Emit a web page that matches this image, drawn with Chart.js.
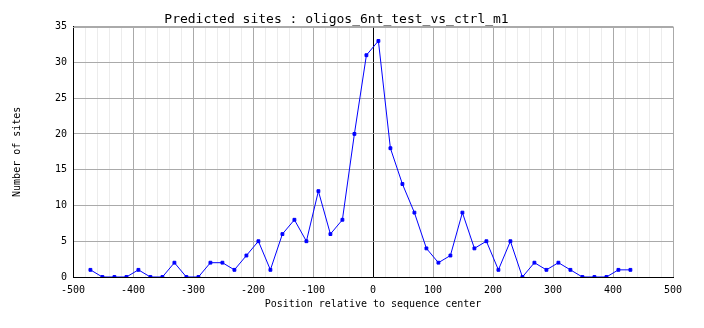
<!DOCTYPE html>
<html lang="en">
<head>
  <meta charset="UTF-8">
  <title>Predicted sites</title>
  <script src="https://cdn.jsdelivr.net/npm/chart.js"></script>
  <style>
    html, body { margin: 0; padding: 0; background: #fff; }
  </style>
</head>
<body>
  <canvas id="sitesChart" width="704" height="328"></canvas>
  <script>
    // bin centres (position relative to sequence center)
    const positions = [
      -471, -451, -431, -411, -391, -371, -351, -331, -311, -291,
      -271, -251, -231, -211, -191, -171, -151, -131, -111, -91,
      -71, -51, -31, -11, 9, 29, 49, 69, 89, 109,
      129, 149, 169, 189, 209, 229, 249, 269, 289, 309,
      329, 349, 369, 389, 409, 429
    ];
    // number of predicted sites per bin
    const siteCounts = [
      1, 0, 0, 0, 1, 0, 0, 2, 0, 0,
      2, 2, 1, 3, 5, 1, 6, 8, 5, 12,
      6, 8, 20, 31, 33, 18, 13, 9, 4, 2,
      3, 9, 4, 5, 1, 5, 0, 2, 1, 2,
      1, 0, 0, 0, 1, 1
    ];
    const xTicks = [-500, -400, -300, -200, -100, 0, 100, 200, 300, 400, 500];
    const yTicks = [0, 5, 10, 15, 20, 25, 30, 35];

    const points = positions.map((x, i) => ({ x: x, y: siteCounts[i] }));
    const monoFont = "'DejaVu Sans Mono', monospace";

    new Chart(document.getElementById('sitesChart'), {
      type: 'line',
      data: {
        datasets: [{
          data: points,
          borderColor: '#0000ff',
          backgroundColor: '#0000ff',
          borderWidth: 1,
          pointStyle: 'rect',
          pointRadius: 2,
          pointHoverRadius: 2,
          tension: 0
        }]
      },
      options: {
        responsive: false,
        animation: false,
        layout: { padding: { top: 0, right: 31, bottom: 18, left: 0 } },
        plugins: {
          legend: { display: false },
          tooltip: { enabled: false },
          title: {
            display: true,
            text: 'Predicted sites : oligos_6nt_test_vs_ctrl_m1',
            color: '#000',
            font: { family: monoFont, size: 13, weight: 'normal' },
            padding: { top: 12, bottom: -1 }
          }
        },
        scales: {
          x: {
            type: 'linear',
            min: xTicks[0],
            max: xTicks[xTicks.length - 1],
            // a tick every 20 for the light grid, labels only on the hundreds
            afterBuildTicks: (scale) => {
              const t = [];
              for (let v = xTicks[0]; v <= xTicks[xTicks.length - 1]; v += 20) t.push({ value: v });
              scale.ticks = t;
            },
            ticks: {
              autoSkip: false,
              maxRotation: 0,
              padding: 7,
              color: '#000',
              font: { family: monoFont, size: 10 },
              callback: (v) => (xTicks.includes(v) ? String(v) : '')
            },
            grid: {
              drawTicks: false,
              lineWidth: 1,
              color: (ctx) => {
                const v = ctx.tick && ctx.tick.value;
                if (v === 0) return '#000';
                return xTicks.includes(v) ? '#aaaaaa' : '#ececec';
              }
            },
            border: { color: '#000' },
            title: {
              display: true,
              text: 'Position relative to sequence center',
              color: '#000',
              font: { family: monoFont, size: 10 },
              padding: { top: -5, bottom: 0 }
            }
          },
          y: {
            min: yTicks[0],
            max: yTicks[yTicks.length - 1],
            afterBuildTicks: (scale) => { scale.ticks = yTicks.map(v => ({ value: v })); },
            afterFit: (scale) => { scale.width = 73; },
            ticks: {
              autoSkip: false,
              padding: 6,
              color: '#000',
              font: { family: monoFont, size: 10 }
            },
            grid: {
              drawTicks: false,
              color: '#aaaaaa'
            },
            border: { color: '#000' },
            title: {
              display: true,
              text: 'Number of sites',
              color: '#000',
              font: { family: monoFont, size: 10 },
              padding: { top: 11, bottom: 0 }
            }
          }
        }
      },
      plugins: [{
        // gray frame on the top and right edges of the plot
        id: 'plotFrame',
        afterDraw(chart) {
          const a = chart.chartArea;
          const c = chart.ctx;
          c.save();
          c.strokeStyle = '#aaaaaa';
          c.lineWidth = 1;
          c.beginPath();
          c.moveTo(a.left, Math.round(a.top) + 0.5);
          c.lineTo(Math.round(a.right) + 0.5, Math.round(a.top) + 0.5);
          c.lineTo(Math.round(a.right) + 0.5, a.bottom);
          c.stroke();
          c.restore();
        }
      }]
    });
  </script>
</body>
</html>
